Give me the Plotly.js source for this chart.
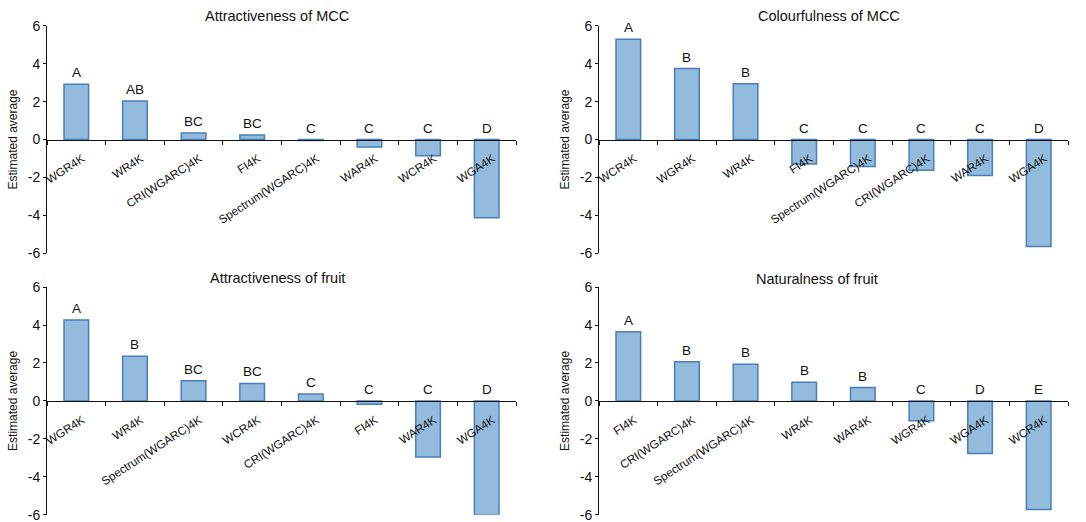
<!DOCTYPE html>
<html>
<head>
<meta charset="utf-8">
<script src="https://cdn.plot.ly/plotly-3.0.1.min.js"></script>
<style>html,body{margin:0;padding:0;background:#fff;}#chart{width:1086px;height:522px;}</style>
</head>
<body>
<div id="chart"></div>
<script>
// Panel 1: Attractiveness of MCC
const cats1 = ["WGR4K","WR4K","CRI(WGARC)4K","FI4K","Spectrum(WGARC)4K","WAR4K","WCR4K","WGA4K"];
const vals1 = [2.92, 2.03, 0.34, 0.24, -0.05, -0.40, -0.86, -4.13];
const grp1  = ["A","AB","BC","BC","C","C","C","D"];

// Panel 2: Colourfulness of MCC
const cats2 = ["WCR4K","WGR4K","WR4K","FI4K","Spectrum(WGARC)4K","CRI(WGARC)4K","WAR4K","WGA4K"];
const vals2 = [5.30, 3.75, 2.95, -1.29, -1.43, -1.63, -1.90, -5.65];
const grp2  = ["A","B","B","C","C","C","C","D"];

// Panel 3: Attractiveness of fruit
const cats3 = ["WGR4K","WR4K","Spectrum(WGARC)4K","WCR4K","CRI(WGARC)4K","FI4K","WAR4K","WGA4K"];
const vals3 = [4.27, 2.36, 1.06, 0.92, 0.37, -0.18, -2.96, -6.02];
const grp3  = ["A","B","BC","BC","C","C","C","D"];

// Panel 4: Naturalness of fruit
const cats4 = ["FI4K","CRI(WGARC)4K","Spectrum(WGARC)4K","WR4K","WAR4K","WGR4K","WGA4K","WCR4K"];
const vals4 = [3.64, 2.07, 1.93, 0.98, 0.70, -1.05, -2.77, -5.72];
const grp4  = ["A","B","B","B","B","C","D","E"];

const titles = ["Attractiveness of MCC","Colourfulness of MCC","Attractiveness of fruit","Naturalness of fruit"];
const yTicks = [6,4,2,0,-2,-4,-6];

const FONT = "Liberation Sans, Arial, sans-serif";
const panels = [[cats1,vals1,grp1],[cats2,vals2,grp2],[cats3,vals3,grp3],[cats4,vals4,grp4]];

const traces = [];
const annotations = [];
panels.forEach((p,i)=>{
  const sfx = i===0 ? "" : String(i+1);
  traces.push({
    type:"bar", x:p[0], y:p[1], xaxis:"x"+sfx, yaxis:"y"+sfx,
    width:0.42,
    marker:{color:"#93bcdc", line:{color:"#4a7ebb", width:1.5}},
    hoverinfo:"x+y", showlegend:false
  });
  p[0].forEach((c,k)=>{
    annotations.push({
      xref:"x"+sfx, yref:"y"+sfx, x:c, y:Math.max(p[1][k],0),
      text:p[2][k], showarrow:false, xanchor:"center", yanchor:"bottom", yshift:2,
      font:{family:FONT, size:13.5, color:"#111"}
    });
  });
});

const xDom = [[47/1086, 516/1086],[599/1086, 1068/1086]];
const yDom = [[0.5153, 0.9502],[0.014, 0.450]];

const layout = {
  width:1086, height:522,
  margin:{l:0,r:0,t:0,b:0},
  paper_bgcolor:"#fff", plot_bgcolor:"rgba(0,0,0,0)",
  font:{family:FONT, color:"#111"},
  showlegend:false,
  annotations:annotations
};

const titlePos = [[277,16],[829,16],[277,278],[817,279]];
for(let i=0;i<4;i++){
  const sfx = i===0 ? "" : String(i+1);
  const col = i%2, row = Math.floor(i/2);
  layout["xaxis"+sfx] = {
    domain:xDom[col], anchor:"free",
    position:(yDom[row][0]+yDom[row][1])/2,
    type:"category", range:[-0.5,7.5],
    showline:true, linecolor:"#111", linewidth:1,
    ticks:"outside", tickson:"boundaries", ticklen:4, tickcolor:"#111",
    tickangle:-33, tickfont:{family:FONT, size:11.7, color:"#111"},
    ticklabelstandoff:7, ticklabelshift:6,
    showgrid:false, zeroline:false, fixedrange:true
  };
  layout["yaxis"+sfx] = {
    domain:yDom[row], anchor:"x"+sfx,
    range:[-6,6], tickvals:yTicks, ticktext:yTicks.map(String),
    showline:true, linecolor:"#111", linewidth:1,
    ticks:"outside", ticklen:3, tickcolor:"#111",
    tickfont:{family:FONT, size:14, color:"#111"},
    ticklabeloverflow:"allow",
    showgrid:false, zeroline:false, fixedrange:true,
    title:{text:"Estimated average", font:{family:FONT, size:12, color:"#111"}, standoff:7}
  };
  layout.annotations.push({
    xref:"paper", yref:"paper",
    x:titlePos[i][0]/1086, y:1-titlePos[i][1]/522,
    xanchor:"center", yanchor:"middle",
    text:titles[i], showarrow:false,
    font:{family:FONT, size:14.5, color:"#111"}
  });
}

Plotly.newPlot("chart", traces, layout, {displayModeBar:false, staticPlot:true});
</script>
</body>
</html>
